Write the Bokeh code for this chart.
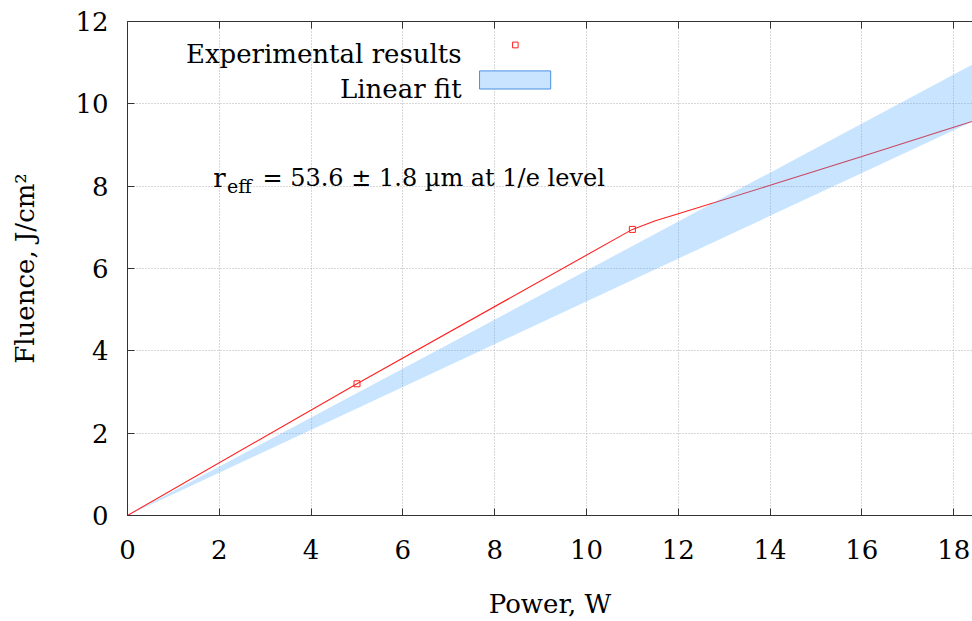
from bokeh.plotting import figure
from bokeh.models import Range1d, LinearAxis, Label, BoxAnnotation, CustomJSTickFormatter
from bokeh.embed import file_html
from bokeh.resources import INLINE

# ---- data ----
exp_power = [5.0, 11.0]
exp_fluence = [3.2, 6.95]

curve_power = [0, 5, 11, 11.5, 12, 14, 16, 18, 20]
curve_fluence = [0, 3.2, 6.95, 7.16, 7.33, 8.02, 8.72, 9.43, 10.13]

band_power = [0, 20]
band_low = [0, 10.4]
band_high = [0, 11.9]

x_ticks = [0, 2, 4, 6, 8, 10, 12, 14, 16, 18]
y_ticks = [0, 2, 4, 6, 8, 10, 12]

FONT = "DejaVu Serif"
FS = "26px"
AXIS_COL = "#333333"
RED = "#ff2020"

p = figure(width=972, height=621, output_backend="svg", toolbar_location=None,
           x_range=Range1d(0, 18.41), y_range=Range1d(0, 12),
           min_border_left=127, min_border_right=0, min_border_top=21, min_border_bottom=104)
p.outline_line_color = None
p.background_fill_color = "white"
p.border_fill_color = "white"

for ax in (p.xaxis[0], p.yaxis[0]):
    ax.major_tick_in = 7
    ax.major_tick_out = 0
    ax.minor_tick_in = 0
    ax.minor_tick_out = 0
    ax.axis_line_color = AXIS_COL
    ax.major_tick_line_color = AXIS_COL
    ax.major_label_text_font = FONT
    ax.major_label_text_font_size = FS
    ax.major_label_text_color = "black"
    ax.axis_label_text_font = FONT
    ax.axis_label_text_font_size = FS
    ax.axis_label_text_font_style = "normal"
    ax.axis_label_text_color = "black"

p.xaxis[0].ticker = x_ticks
p.yaxis[0].ticker = y_ticks
p.xaxis[0].axis_label = "Power, W"
p.yaxis[0].axis_label = "Fluence, J/cm²"
p.xaxis[0].major_label_standoff = 24
p.yaxis[0].major_label_standoff = 19
p.xaxis[0].axis_label_standoff = 27
p.yaxis[0].axis_label_standoff = 32

top = LinearAxis(ticker=x_ticks, major_tick_in=7, major_tick_out=0,
                 minor_tick_in=0, minor_tick_out=0,
                 axis_line_color=AXIS_COL, major_tick_line_color=AXIS_COL,
                 major_label_standoff=0,
                 formatter=CustomJSTickFormatter(code="return ''"))
p.add_layout(top, "above")

p.xgrid.ticker = x_ticks
p.ygrid.ticker = y_ticks
for g in (p.xgrid[0], p.ygrid[0]):
    g.grid_line_color = "#b0b0b0"
    g.grid_line_dash = "1 2"
    g.grid_line_width = 1

# model curve (under the band)
p.line(curve_power, curve_fluence, line_color=RED, line_width=1.1)
# linear fit band
p.varea(x=band_power, y1=band_low, y2=band_high, fill_color="#48a5ff", fill_alpha=0.3)
# experimental points
p.scatter(exp_power, exp_fluence, marker="square", size=6, fill_color=None,
          line_color=RED, line_width=1)

# legend (gnuplot style: text, then sample)
p.add_layout(Label(x=7.28, y=11.21, text="Experimental results", text_align="right",
                   text_baseline="alphabetic", text_font=FONT, text_font_size=FS,
                   text_color="black"))
p.add_layout(Label(x=7.28, y=10.36, text="Linear fit", text_align="right",
                   text_baseline="alphabetic", text_font=FONT, text_font_size=FS,
                   text_color="black"))
p.add_layout(BoxAnnotation(left=8.39, right=8.51, bottom=11.36, top=11.50,
                           fill_color=None, line_color=RED, line_alpha=1.0, line_width=1))
p.add_layout(BoxAnnotation(left=7.67, right=9.22, bottom=10.36, top=10.80,
                           fill_color="#c8e4ff", fill_alpha=1.0, line_color="#4a90e2",
                           line_alpha=1.0, line_width=1))

# annotation r_eff
p.add_layout(Label(x=1.87, y=8.21, text="r", text_baseline="alphabetic",
                   text_font=FONT, text_font_size=FS, text_color="black"))
p.add_layout(Label(x=2.17, y=8.01, text="eff", text_baseline="alphabetic",
                   text_font=FONT, text_font_size="19px", text_color="black"))
p.add_layout(Label(x=2.94, y=8.21, text="= 53.6 ± 1.8 µm at 1/e level", text_baseline="alphabetic",
                   text_font=FONT, text_font_size="24px", text_color="black"))

open("out.html", "w").write(file_html(p, INLINE))
